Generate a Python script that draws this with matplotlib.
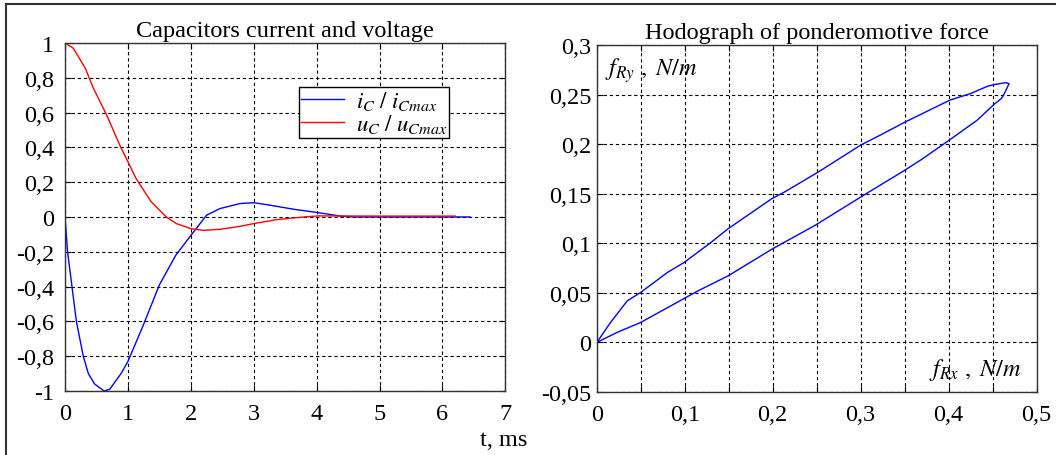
import matplotlib.pyplot as plt
from matplotlib.lines import Line2D
from matplotlib.ticker import FuncFormatter, MultipleLocator

plt.rcParams['font.family'] = ['Liberation Serif', 'DejaVu Serif']
plt.rcParams['mathtext.fontset'] = 'stix'

# Capacitor current and voltage (normalised), t in ms
t_i = [0, 0.04, 0.11, 0.18, 0.29, 0.37, 0.47, 0.62, 0.71, 0.89, 1.0, 1.24,
       1.5, 1.76, 2.0, 2.25, 2.46, 2.78, 3.0, 3.27, 3.64, 4.02, 4.4, 4.6, 6.44]
i_c = [0.0, -0.2, -0.4, -0.6, -0.8, -0.9, -0.96, -1.0, -0.99, -0.9, -0.83,
       -0.625, -0.39, -0.22, -0.106, 0.01, 0.048, 0.077, 0.082, 0.067, 0.044,
       0.025, 0.004, 0.0, 0.0]

t_u = [0, 0.13, 0.32, 0.45, 0.66, 0.87, 1.0, 1.13, 1.37, 1.61, 1.77, 2.0,
       2.2, 2.46, 2.78, 3.0, 3.37, 3.8, 4.02, 5.0, 6.2]
u_c = [1.0, 0.97, 0.856, 0.74, 0.587, 0.413, 0.317, 0.22, 0.087, 0.0, -0.038,
       -0.067, -0.077, -0.071, -0.054, -0.038, -0.015, 0.0, 0.006, 0.005, 0.005]

# Hodograph of ponderomotive force, N/m
f_rx = [0, 0.0156, 0.0347, 0.05, 0.0805, 0.0995, 0.13, 0.149, 0.199, 0.214,
        0.252, 0.30, 0.3227, 0.35, 0.4012, 0.425, 0.444, 0.4516, 0.465, 0.4687,
        0.4637, 0.46, 0.4516, 0.4327, 0.4012, 0.37, 0.349, 0.309, 0.248, 0.199,
        0.149, 0.115, 0.05, 0.023, 0]
f_ry = [0, 0.0202, 0.042, 0.0505, 0.0707, 0.0808, 0.101, 0.1145, 0.145, 0.152,
        0.172, 0.199, 0.2093, 0.222, 0.2443, 0.251, 0.2583, 0.26, 0.262, 0.261,
        0.2516, 0.246, 0.24, 0.2243, 0.2043, 0.185, 0.173, 0.1515, 0.118, 0.094,
        0.067, 0.052, 0.0202, 0.0101, 0]


def comma(v, pos):
    s = '%g' % round(v, 4)
    return s.replace('.', ',')


def style(ax):
    for sp in ax.spines.values():
        sp.set_color('#333333')
        sp.set_linewidth(1.0)
    ax.tick_params(which='both', direction='in', top=True, right=True,
                   length=4, width=0.8, labelsize=17.5, colors='black')
    ax.grid(which='both', color='black', linestyle=(0, (3, 2.5)), linewidth=0.8)
    ax.set_axisbelow(True)


fig = plt.figure(figsize=(10.56, 4.56), dpi=100)

# left panel
ax1 = fig.add_axes([0.0616, 0.1404, 0.417, 0.7632])
ax1.plot(t_i, i_c, color='blue', lw=1, label=r'$i_C\ /\ i_{Cmax}$')
ax1.plot(t_u, u_c, color='red', lw=1, label=r'$u_C\ /\ u_{Cmax}$')
ax1.set_xlim(0, 7)
ax1.set_ylim(-1, 1)
ax1.xaxis.set_major_locator(MultipleLocator(1))
ax1.yaxis.set_major_locator(MultipleLocator(0.2))
ax1.yaxis.set_major_formatter(FuncFormatter(comma))
style(ax1)
ax1.tick_params(axis='y', pad=8)
ax1.tick_params(axis='x', pad=9)
ax1.set_title('Capacitors current and voltage', fontsize=17.5, pad=5)
ax1.text(0.995, -0.138, 't, ms', transform=ax1.transAxes, fontsize=17.5,
         ha='center', va='center')
leg = ax1.legend(loc='upper right', bbox_to_anchor=(0.873, 0.8736),
                 borderaxespad=0, fontsize=16.5, fancybox=False, framealpha=1,
                 edgecolor='black', handlelength=1.9, borderpad=0.1,
                 labelspacing=0.0, handletextpad=0.5)
leg.get_frame().set_linewidth(1.0)

# right panel
ax2 = fig.add_axes([0.5652, 0.1382, 0.4164, 0.7610])
ax2.plot(f_rx, f_ry, color='blue', lw=1)
ax2.set_xlim(0, 0.5)
ax2.set_ylim(-0.05, 0.3)
ax2.xaxis.set_major_locator(MultipleLocator(0.1))
ax2.xaxis.set_minor_locator(MultipleLocator(0.05))
ax2.yaxis.set_major_locator(MultipleLocator(0.05))
ax2.xaxis.set_major_formatter(FuncFormatter(comma))
ax2.yaxis.set_major_formatter(FuncFormatter(comma))
style(ax2)
ax2.tick_params(axis='y', pad=4)
ax2.tick_params(axis='x', pad=9)
ax2.set_title('Hodograph of ponderomotive force', fontsize=17.5, pad=5)
ax2.text(0.0175, 0.93, r'$f_{Ry}\ ,\ N/m$', transform=ax2.transAxes,
         fontsize=17.5, ha='left', va='center')
ax2.text(0.966, 0.066, r'$f_{Rx}\ ,\ N/m$', transform=ax2.transAxes,
         fontsize=17.5, ha='right', va='center')

# outer frame (top and left edges)
fig.add_artist(Line2D([6 / 1056, 1], [1 - 5 / 456, 1 - 5 / 456],
                      transform=fig.transFigure, color='#333333', lw=1.5))
fig.add_artist(Line2D([6 / 1056, 6 / 1056], [0, 1 - 5 / 456],
                      transform=fig.transFigure, color='#333333', lw=1.5))

fig.savefig('out.png', dpi=100)
